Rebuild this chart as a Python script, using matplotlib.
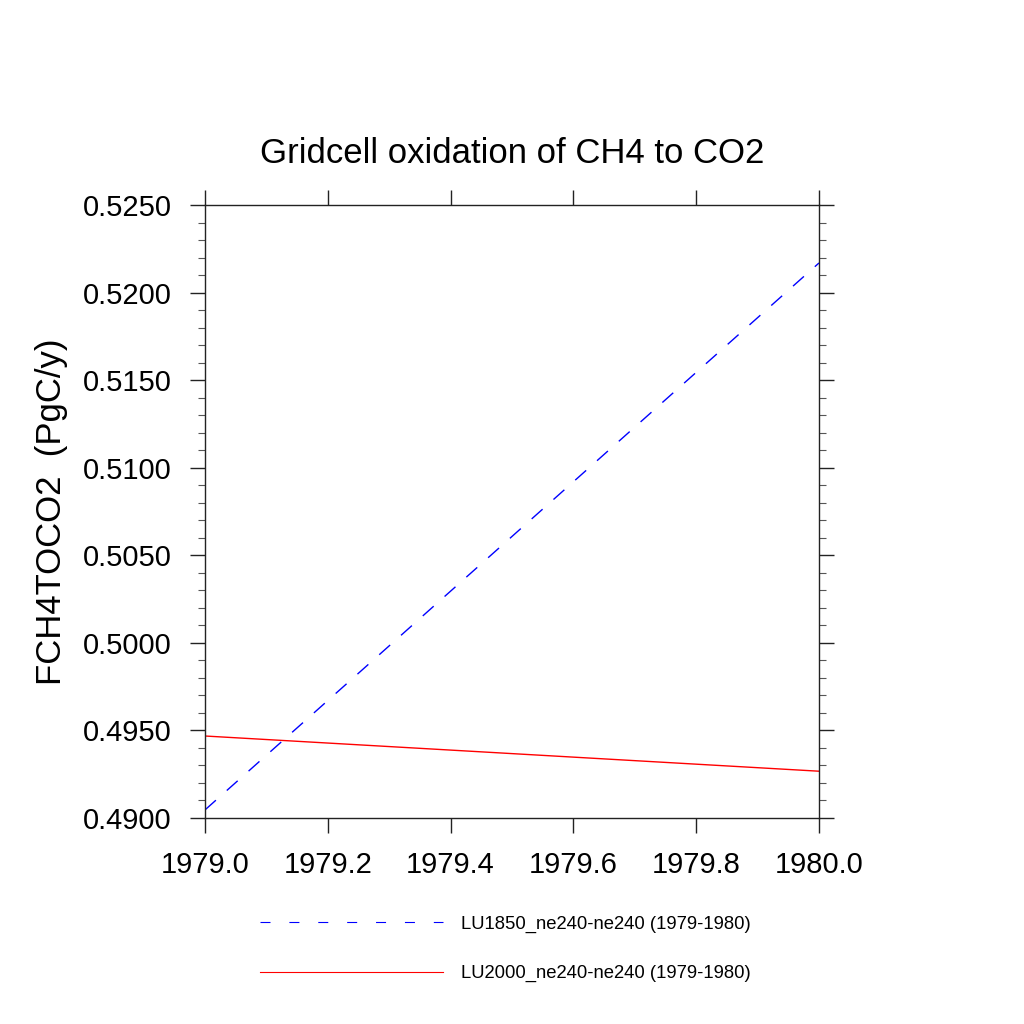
import matplotlib
matplotlib.use("Agg")
import matplotlib.pyplot as plt
from matplotlib.ticker import MultipleLocator, FormatStrFormatter

plt.rcParams["font.family"] = ["Liberation Sans", "DejaVu Sans"]

# yearly values
years = [1979.0, 1980.0]
lu1850 = [0.49046, 0.52169]
lu2000 = [0.49468, 0.49267]
labels = ["LU1850_ne240-ne240 (1979-1980)", "LU2000_ne240-ne240 (1979-1980)"]

fig = plt.figure(figsize=(10.24, 10.24), dpi=100)
ax = fig.add_axes([0.2002, 0.2012, 0.5996, 0.5986])

l1, = ax.plot(years, lu1850, color="blue", lw=1.0, dashes=(10.5, 10.5))
l2, = ax.plot(years, lu2000, color="red", lw=1.0)

ax.set_xlim(1979.0, 1980.0)
ax.set_ylim(0.4900, 0.5250)
ax.xaxis.set_major_locator(MultipleLocator(0.2))
ax.xaxis.set_major_formatter(FormatStrFormatter("%.1f"))
ax.yaxis.set_major_locator(MultipleLocator(0.005))
ax.yaxis.set_minor_locator(MultipleLocator(0.001))
ax.yaxis.set_major_formatter(FormatStrFormatter("%.4f"))

for s in ax.spines.values():
    s.set_linewidth(1.0)
    s.set_color("#222222")
ax.tick_params(which="major", direction="out", length=10.8, width=1.0,
               labelsize=21, pad=13, top=True, right=True, color="#222222")
ax.tick_params(which="minor", direction="out", length=5, width=0.8,
               top=True, right=True, color="#555555")

ax.set_title("Gridcell oxidation of CH4 to CO2", fontsize=25, pad=30)
ax.set_ylabel("FCH4TOCO2  (PgC/y)", fontsize=25, labelpad=11)

leg = fig.legend([l1, l2], labels, loc="upper left",
                 bbox_to_anchor=(0.254, 0.106), fontsize=13.3,
                 frameon=False, handlelength=9.9, handletextpad=1.0,
                 labelspacing=1.75, borderpad=0, borderaxespad=0)
hl = leg.get_lines()
for h in hl:
    h.set_linewidth(0.8)
hl[0].set_dashes((9, 17))

fig.savefig("out.png", dpi=100)
